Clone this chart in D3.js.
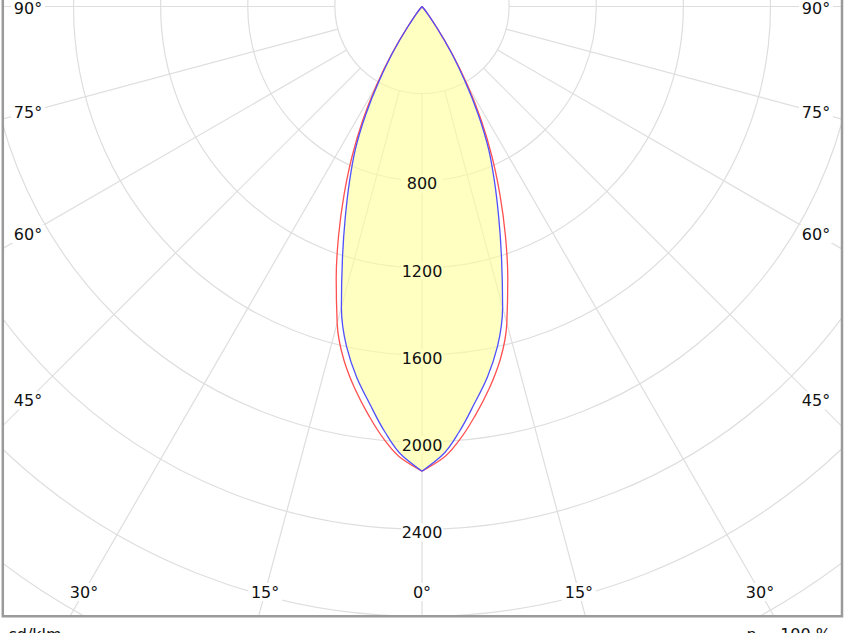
<!DOCTYPE html>
<html>
<head>
<meta charset="utf-8">
<script src="https://cdn.jsdelivr.net/npm/d3@7"></script>
<style>
  body { margin: 0; background: #fff; }
  svg { display: block; font-family: "DejaVu Sans", Verdana, sans-serif; }
</style>
</head>
<body>
<svg width="844" height="633"></svg>
<script>
// gamma angles (deg from nadir) and intensities in cd/klm
var angles = [0, 2.5, 5, 7.5, 10, 12.5, 15, 17.5, 20, 22.5, 25, 27.5, 30, 32.5, 35, 37.5, 40, 42.5];
var redValues = [2134, 2080, 1995, 1890, 1780, 1660, 1505, 1310, 1120, 935, 760, 590, 420, 260, 120, 50, 15, 0];
var blueValues = [2134, 2065, 1960, 1840, 1728, 1600, 1430, 1215, 1030, 870, 725, 560, 390, 245, 115, 45, 12, 0];

var ringValues = [400, 800, 1200, 1600, 2000, 2400, 2800, 3200, 3600];
var ringLabels = [800, 1200, 1600, 2000, 2400];
var spokeAngles = [0, 15, 30, 45, 60, 75, 90];

var svg = d3.select('svg'),
    width = +svg.attr("width"),
    height = +svg.attr("height");

var cx = 422, cy = 6.5;
var frame = { left: 2.8, right: 842, bottom: 616.2 };

var r = d3.scaleLinear().domain([0, 2400]).range([0, 522.7]);
var rad = function(deg) { return deg * Math.PI / 180; };

svg.append("clipPath").attr("id", "clip")
  .append("rect")
    .attr("x", frame.left).attr("y", -10)
    .attr("width", frame.right - frame.left)
    .attr("height", frame.bottom + 10);

var plot = svg.append("g").attr("clip-path", "url(#clip)");
var g = plot.append("g").attr("transform", "translate(" + cx + "," + cy + ")");

// rings
g.append("g").selectAll("circle")
  .data(ringValues)
  .enter().append("circle")
    .attr("r", function(d) { return r(d); })
    .attr("fill", "none")
    .attr("stroke", "#dedede")
    .attr("stroke-width", 1.2);

// spokes, both sides, starting at the 400 ring
var spokes = [];
spokeAngles.forEach(function(a) {
  spokes.push(a);
  if (a !== 0) spokes.push(-a);
});
g.append("g").selectAll("line")
  .data(spokes)
  .enter().append("line")
    .attr("x1", function(d) { return r(400) * Math.sin(rad(d)); })
    .attr("y1", function(d) { return r(400) * Math.cos(rad(d)); })
    .attr("x2", function(d) { return 1200 * Math.sin(rad(d)); })
    .attr("y2", function(d) { return 1200 * Math.cos(rad(d)); })
    .attr("stroke", "#dedede")
    .attr("stroke-width", 1.2);

// ring label backgrounds (under the fill)
g.append("g").selectAll("rect")
  .data(ringLabels)
  .enter().append("rect")
    .attr("x", -21).attr("y", function(d) { return r(d) + 3 - 9; })
    .attr("width", 42).attr("height", 18)
    .attr("fill", "#fff");

// each half runs from the centre down to 0 deg, so it is monotone in y
var radial = d3.lineRadial()
  .angle(function(d) { return d.a; })
  .radius(function(d) { return r(d.v); })
  .curve(d3.curveMonotoneY);

function half(values, side) {
  var pts = [];
  for (var i = angles.length - 1; i >= 0; i--) {
    pts.push({ a: Math.PI - side * rad(angles[i]), v: values[i] });
  }
  return radial(pts);
}

[-1, 1].forEach(function(side) {
  g.append("path")
    .attr("d", half(blueValues, side) + "Z")
    .attr("fill", "#ffff99")
    .attr("fill-opacity", 0.6)
    .attr("stroke", "none");
});

[-1, 1].forEach(function(side) {
  g.append("path")
    .attr("d", half(redValues, side))
    .attr("fill", "none")
    .attr("stroke", "#ff5050")
    .attr("stroke-width", 1.3);
  g.append("path")
    .attr("d", half(blueValues, side))
    .attr("fill", "none")
    .attr("stroke", "#4f4fff")
    .attr("stroke-width", 1.3);
});

g.append("g").selectAll("text")
  .data(ringLabels)
  .enter().append("text")
    .attr("y", function(d) { return r(d) + 3; })
    .attr("text-anchor", "middle")
    .attr("dy", "0.36em")
    .attr("font-size", 16)
    .attr("fill", "#111")
    .text(function(d) { return d; });

// angle labels on an inset rectangle
var inset = { dx: 394, bottom: 592 - cy };
var angLab = [];
spokes.forEach(function(a) {
  var s = Math.sin(rad(Math.abs(a))), c = Math.cos(rad(Math.abs(a)));
  var t = Math.min(s > 0 ? inset.dx / s : Infinity, c > 1e-9 ? inset.bottom / c : Infinity);
  angLab.push({ a: a, x: cx + Math.sign(a) * t * s, y: cy + t * c });
});

var al = svg.append("g").selectAll("g")
  .data(angLab)
  .enter().append("g")
    .attr("transform", function(d) { return "translate(" + d.x + "," + (d.y + (Math.abs(d.a) === 90 ? 2 : 0)) + ")"; });
al.append("rect")
  .attr("x", -17).attr("y", -9)
  .attr("width", 34).attr("height", 18)
  .attr("fill", "#fff");
al.append("text")
  .attr("text-anchor", "middle")
  .attr("dy", "0.36em")
  .attr("font-size", 16)
  .attr("fill", "#111")
  .text(function(d) { return Math.abs(d.a) + "°"; });

// frame
svg.append("path")
  .attr("d", "M" + frame.left + ",-5V" + frame.bottom + "H" + frame.right + "V-5")
  .attr("fill", "none")
  .attr("stroke", "#9a9a9a")
  .attr("stroke-width", 2.5);

svg.append("text")
  .attr("x", 8).attr("y", 640)
  .attr("font-size", 16).attr("fill", "#111")
  .text("cd/klm");

svg.append("text")
  .attr("x", 831).attr("y", 640)
  .attr("text-anchor", "end")
  .attr("font-size", 16).attr("fill", "#111")
  .text("η = 100 %");
</script>
</body>
</html>
